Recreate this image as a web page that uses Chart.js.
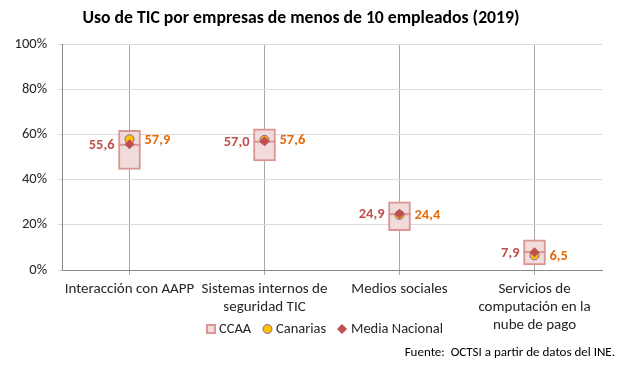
<!DOCTYPE html>
<html>
<head>
<meta charset="utf-8">
<title>Uso de TIC por empresas de menos de 10 empleados (2019)</title>
<script src="https://cdn.jsdelivr.net/npm/chart.js@4/dist/chart.umd.min.js"></script>
<style>
    body { margin: 0; background: #fff; }
    .chart-box { position: relative; width: 624px; height: 367px; }
</style>
</head>
<body>
<div class="chart-box"><canvas id="tic_chart"></canvas></div>
<script>
const categories = [
    "Interacción con AAPP",
    ["Sistemas internos de", "seguridad TIC"],
    "Medios sociales",
    ["Servicios de", "computación en la", "nube de pago"],
];
const ccaa_min = [44.5, 48.3, 17.4, 2.3];
const ccaa_max = [61.8, 62.5, 30.2, 13.3];
const ccaa_mid = [55.4, 56.8, 24.7, 7.9];
const canarias = [57.9, 57.6, 24.4, 6.5];
const nacional = [55.6, 57.0, 24.9, 7.9];
const y_ticks = [0, 20, 40, 60, 80, 100];

const FONT = "Carlito, Lato, 'Open Sans', sans-serif";

Chart.defaults.font.family = FONT;
Chart.defaults.color = "#262626";

const fmt = (v) => v.toFixed(1).replace(".", ",");

// value labels beside the markers + legend row + source
const extras = {
    id: "extras",
    afterDatasetsDraw(chart) {
        const ctx = chart.ctx;
        ctx.save();
        ctx.font = "bold 14.5px " + FONT;
        ctx.textBaseline = "middle";

        const nac_meta = chart.getDatasetMeta(3);
        ctx.fillStyle = "#c0504d";
        ctx.textAlign = "right";
        nac_meta.data.forEach((pt, i) => {
            ctx.fillText(fmt(nacional[i]), pt.x - 15, pt.y + 1);
        });

        const can_meta = chart.getDatasetMeta(2);
        ctx.fillStyle = "#e46c0a";
        ctx.textAlign = "left";
        can_meta.data.forEach((pt, i) => {
            ctx.fillText(fmt(canarias[i]), pt.x + 15, pt.y + 1);
        });
        ctx.restore();
    },
    afterDraw(chart) {
        const ctx = chart.ctx;
        ctx.save();
        const ly = 329;
        ctx.font = "14.5px " + FONT;
        ctx.textBaseline = "middle";
        ctx.textAlign = "left";

        // CCAA
        ctx.fillStyle = "#f2dcdb";
        ctx.strokeStyle = "#d99694";
        ctx.lineWidth = 2;
        ctx.fillRect(207, ly - 4, 8, 8);
        ctx.strokeRect(207, ly - 4, 8, 8);
        ctx.fillStyle = "#262626";
        ctx.fillText("CCAA", 219, ly);

        // Canarias
        ctx.beginPath();
        ctx.arc(267.5, ly, 4.5, 0, Math.PI * 2);
        ctx.fillStyle = "#ffc000";
        ctx.fill();
        ctx.lineWidth = 1;
        ctx.strokeStyle = "#8064a2";
        ctx.stroke();
        ctx.fillStyle = "#262626";
        ctx.fillText("Canarias", 276, ly);

        // Media Nacional
        ctx.beginPath();
        ctx.moveTo(342, ly - 5);
        ctx.lineTo(347, ly);
        ctx.lineTo(342, ly + 5);
        ctx.lineTo(337, ly);
        ctx.closePath();
        ctx.fillStyle = "#c0504d";
        ctx.fill();
        ctx.fillStyle = "#262626";
        ctx.fillText("Media Nacional", 351, ly);

        // source
        ctx.font = "13px " + FONT;
        ctx.fillStyle = "#000";
        ctx.textAlign = "right";
        ctx.fillText("Fuente:  OCTSI a partir de datos del INE.", 615, 353);
        ctx.restore();
    },
};

document.addEventListener("DOMContentLoaded", () => {
    const ctx = document.querySelector("#tic_chart");

    new Chart(ctx, {
        type: "bar",
        data: {
            labels: categories,
            datasets: [
                {
                    label: "CCAA",
                    data: ccaa_min.map((v, i) => [v, ccaa_max[i]]),
                    backgroundColor: "#f2dcdb",
                    borderColor: "#d99694",
                    borderWidth: 2,
                    borderSkipped: false,
                    barThickness: 22,
                    order: 4,
                },
                {
                    type: "line",
                    label: "CCAA mediana",
                    data: ccaa_mid,
                    showLine: false,
                    pointStyle: "line",
                    pointRadius: 11,
                    pointBorderWidth: 2,
                    pointBorderColor: "#d99694",
                    order: 3,
                },
                {
                    type: "line",
                    label: "Canarias",
                    data: canarias,
                    showLine: false,
                    pointStyle: "circle",
                    pointRadius: 4.5,
                    pointBorderWidth: 1,
                    pointBackgroundColor: "#ffc000",
                    pointBorderColor: "#8064a2",
                    order: 2,
                },
                {
                    type: "line",
                    label: "Media Nacional",
                    data: nacional,
                    showLine: false,
                    pointStyle: "rectRot",
                    pointRadius: 5,
                    pointBorderWidth: 0,
                    pointBackgroundColor: "#c0504d",
                    pointBorderColor: "#c0504d",
                    order: 1,
                },
            ],
        },
        options: {
            responsive: true,
            maintainAspectRatio: false,
            animation: false,
            layout: { padding: { top: 0, right: 22, bottom: 0, left: 0 } },
            scales: {
                x: {
                    afterFit: (scale) => { scale.height = 97; },
                    grid: {
                        offset: false,
                        color: "#a6a6a6",
                        tickLength: 5,
                    },
                    border: { color: "#868686", width: 1 },
                    ticks: {
                        color: "#262626",
                        padding: 5,
                        maxRotation: 0,
                        autoSkip: false,
                        font: { size: 15, lineHeight: 1.2 },
                    },
                },
                y: {
                    min: 0,
                    max: 100,
                    afterFit: (scale) => { scale.width = 62; },
                    afterBuildTicks: (scale) => {
                        scale.ticks = y_ticks.map((v) => ({ value: v }));
                    },
                    grid: {
                        color: "#d9d9d9",
                        tickLength: 4,
                    },
                    border: { color: "#868686", width: 1 },
                    ticks: {
                        color: "#262626",
                        padding: 11,
                        font: { size: 14.5 },
                        callback: (v) => v + "%",
                    },
                },
            },
            plugins: {
                legend: { display: false },
                tooltip: { enabled: false },
                title: {
                    display: true,
                    text: "Uso de TIC por empresas de menos de 10 empleados (2019)",
                    color: "#000",
                    font: { size: 17.7, weight: "bold", lineHeight: 1.2 },
                    padding: { top: 8, bottom: 14.8 },
                },
            },
        },
        plugins: [extras],
    });
});
</script>
</body>
</html>
